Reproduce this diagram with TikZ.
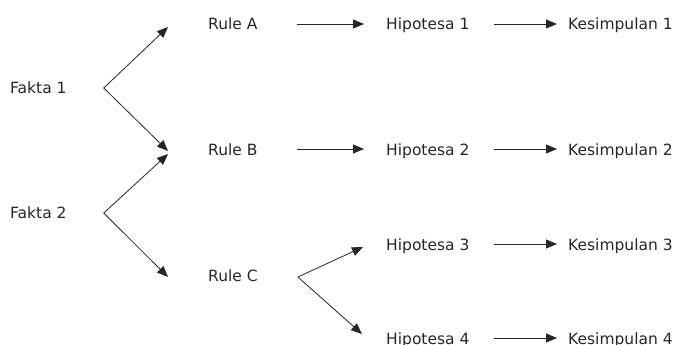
\documentclass[tikz,border=0pt]{standalone}
\usepackage{fontspec}
\setmainfont{DejaVu Sans}
\usepackage{tikz}
\usetikzlibrary{calc,arrows.meta}
\definecolor{ink}{rgb}{0.15,0.15,0.15}
\tikzset{
	txt/.style={anchor=west, inner sep=0pt, text height=12pt, text depth=0pt,
		font=\fontsize{15.5}{18}\selectfont, text=ink},
	arr/.style={-{Triangle[length=11pt,width=9pt]}, line width=0.8pt, draw=ink}
}
\begin{document}
\begin{tikzpicture}[x=1pt,y=-1pt]
	\useasboundingbox (0,0) rectangle (675,345);
	
	% facts, rules, hypotheses, conclusions
	\node[txt] (fakta1) at (10,87) {Fakta 1};
	\node[txt] (fakta2) at (10,212) {Fakta 2};
	\node[txt] (ruleA) at (208,24) {Rule A};
	\node[txt] (ruleB) at (208,149) {Rule B};
	\node[txt] (ruleC) at (208,275) {Rule C};
	\foreach \i/\y in {1/24,2/149,3/244,4/338}
	{
		\node[txt] (hip\i) at (386,\y) {Hipotesa \i};
		\node[txt] (kes\i) at (568,\y) {Kesimpulan \i};
	}
	
	% forks
	\coordinate (f1) at ($(fakta1.east)+(37,1)$);
	\coordinate (f2) at ($(fakta2.east)+(37,1)$);
	\coordinate (rc) at ($(ruleC.east)+(40,2)$);
	
	\draw[arr] (f1) -- ($(ruleA.west)+(-40,3)$);
	\draw[arr] (f1) -- ($(ruleB.west)+(-40,2)$);
	\draw[arr] (f2) -- ($(ruleB.west)+(-40,5)$);
	\draw[arr] (f2) -- ($(ruleC.west)+(-40,2)$);
	\draw[arr] (rc) -- ($(hip3.west)+(-23,3)$);
	\draw[arr] (rc) -- ($(hip4.west)+(-24,-4)$);
	
	\draw[arr, shorten <=39pt, shorten >=22pt] (ruleA.east) -- (hip1.west);
	\draw[arr, shorten <=39pt, shorten >=22pt] (ruleB.east) -- (hip2.west);
	\foreach \i in {1,...,4}
	\draw[arr, shorten <=24pt, shorten >=11pt] (hip\i.east) -- (kes\i.west);
\end{tikzpicture}
\end{document}
